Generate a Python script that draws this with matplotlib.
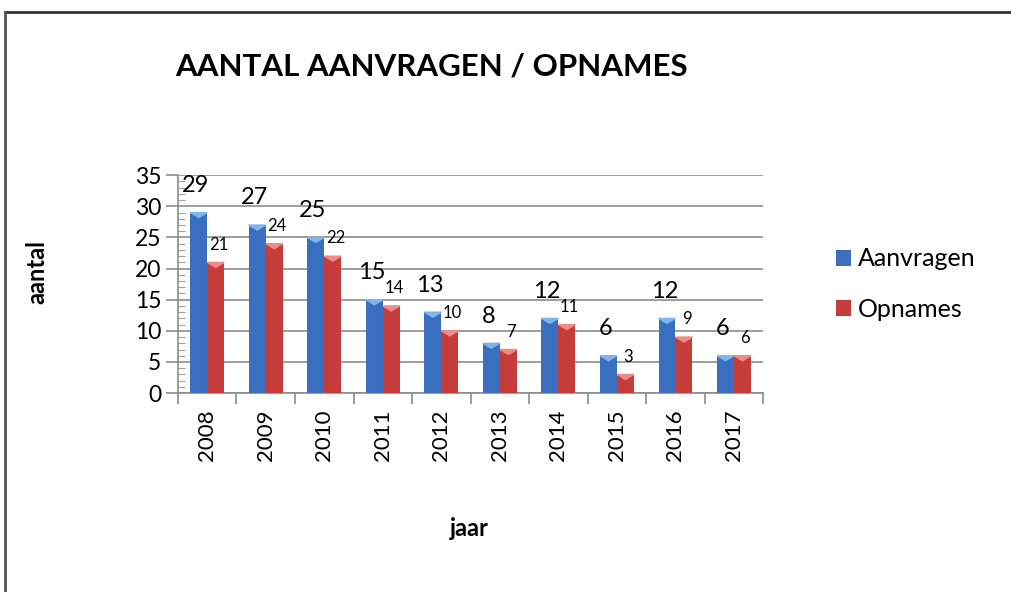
import matplotlib.pyplot as plt
import numpy as np
from matplotlib.patches import Polygon
from matplotlib.lines import Line2D

years = ["2008", "2009", "2010", "2011", "2012", "2013", "2014", "2015", "2016", "2017"]
aanvragen = [29, 27, 25, 15, 13, 8, 12, 6, 12, 6]
opnames = [21, 24, 22, 14, 10, 7, 11, 3, 9, 6]

plt.rcParams['font.family'] = ['Lato', 'DejaVu Sans']

fig = plt.figure(figsize=(10.11, 5.92), dpi=100)
ax = fig.add_axes([0.176, 0.336, 0.579, 0.368])

x = np.arange(len(years))
w = 0.29
blue, blue_top = "#3a6fbf", "#7fb4ec"
red, red_top = "#c63c3a", "#ee8b88"

b1 = ax.bar(x - w / 2, aanvragen, w, color=blue, label="Aanvragen", zorder=3)
b2 = ax.bar(x + w / 2, opnames, w, color=red, label="Opnames", zorder=3)

# lichte driehoekjes bovenop de balken (3D-effect)
for bars, c in [(b1, blue_top), (b2, red_top)]:
    for r in bars:
        x0, x1, top = r.get_x(), r.get_x() + r.get_width(), r.get_height()
        ax.add_patch(Polygon([(x0, top), (x1, top), ((x0 + x1) / 2, top - 0.8)],
                             closed=True, color=c, zorder=4))

for r, v in zip(b1, aanvragen):
    ax.annotate(str(v), (r.get_x() + r.get_width() / 2, v), xytext=(-2, 12),
                textcoords="offset points", ha="center", va="bottom", fontsize=17)
for r, v in zip(b2, opnames):
    ax.annotate(str(v), (r.get_x() + r.get_width() / 2, v), xytext=(2, 7),
                textcoords="offset points", ha="center", va="bottom", fontsize=12)

ax.set_xlim(-0.5, len(years) - 0.5)
ax.set_ylim(0, 35)
ax.set_yticks(np.arange(0, 36, 5))
ax.set_yticks(np.arange(0, 36, 1), minor=True)
ax.set_xticks(x)
ax.set_xticklabels(years, rotation=90, fontsize=16)
ax.set_xticks(np.arange(-0.5, len(years), 1), minor=True)

ax.tick_params(axis="y", which="major", labelsize=16.5, length=9, color="#8c8c8c", width=1.2, pad=3)
ax.tick_params(axis="y", which="minor", direction="in", length=5, color="#a0a0a0", width=0.8)
ax.tick_params(axis="x", which="major", length=0, pad=12)
ax.tick_params(axis="x", which="minor", length=8, color="#8c8c8c", width=1.2)

ax.grid(axis="y", color="#8c8c8c", linewidth=1.2, zorder=0)
ax.set_axisbelow(True)
for s in ["top", "right"]:
    ax.spines[s].set_visible(False)
for s in ["left", "bottom"]:
    ax.spines[s].set_color("#8c8c8c")
    ax.spines[s].set_linewidth(1.2)

fig.text(0.173, 0.888, "AANTAL AANVRAGEN / OPNAMES", fontsize=22.5, fontweight="bold",
         ha="left", va="center")
fig.text(0.036, 0.54, "aantal", fontsize=17, fontweight="bold", rotation=90,
         ha="center", va="center")
fig.text(0.464, 0.108, "jaar", fontsize=17, fontweight="bold", ha="center", va="center")

fig.legend(handles=[b1, b2], loc="center left", bbox_to_anchor=(0.805, 0.52),
           frameon=False, fontsize=18, handlelength=0.6, handleheight=0.6,
           handletextpad=0.25, labelspacing=1.1)

# rand van het grafiekgebied
fig.add_artist(Line2D([5 / 1011, 1], [1 - 12 / 592, 1 - 12 / 592], color="#333333", linewidth=2))
fig.add_artist(Line2D([5 / 1011, 5 / 1011], [0, 1 - 12 / 592], color="#555555", linewidth=2))

fig.savefig("out.png", dpi=100)
